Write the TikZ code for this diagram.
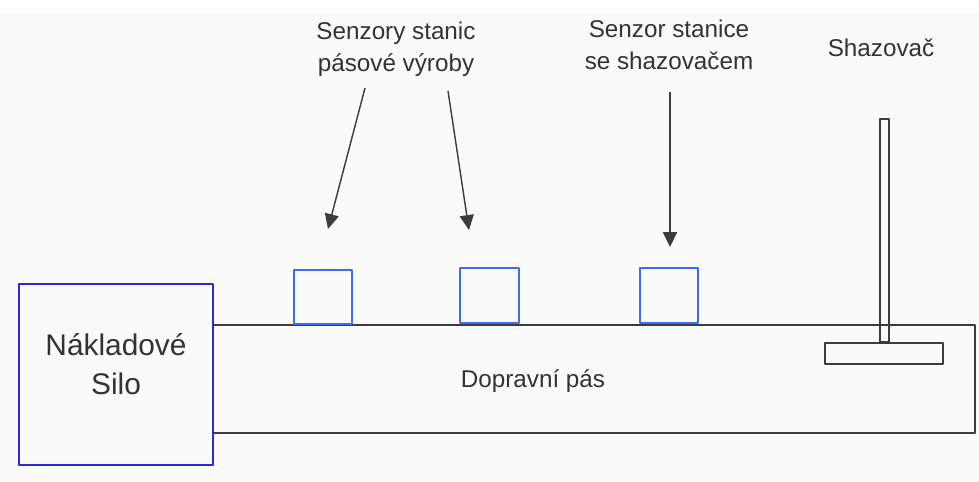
\documentclass[tikz,border=0pt]{standalone}
\usepackage{fontspec}
\setmainfont{Liberation Sans}
\usetikzlibrary{arrows.meta}
\definecolor{silocol}{HTML}{2A2AD4}
\definecolor{senzcol}{HTML}{3B6CF2}
\definecolor{linecol}{HTML}{3C3C3C}
\definecolor{txtcol}{HTML}{333333}
\definecolor{bgcol}{HTML}{FAFAFA}
\tikzset{
  popis/.style={text=txtcol, align=center, font=\fontsize{13.8}{18.5}\selectfont},
  senzor/.style={draw=senzcol, line width=1pt},
  sipka/.style={-{Triangle[length=8.5pt,width=8pt]}, line width=0.8pt, draw=linecol, fill=linecol}
}
\begin{document}
\begin{tikzpicture}[x=0.02cm, y=-0.02cm, line join=round]
            \useasboundingbox (0,0) rectangle (979,481);
            \fill[white] (0,0) rectangle (979,481);
            \fill[bgcol] (0,13) rectangle (979,481);
            % pas a silo
            \draw[linecol, line width=0.8pt] (213,325) rectangle (975,433);
            \draw[silocol, line width=1pt, fill=bgcol] (19,284) rectangle (213,465);
            \node[popis, font=\fontsize{17}{22}\selectfont] (silo) at (116,364) {Nákladové\\Silo};
            \node[popis] (pas) at (533,381) {Dopravní pás};
            % senzory
            \draw[senzor] (294,270) rectangle (352,324);
            \draw[senzor] (460,268) rectangle (519,323);
            \draw[senzor] (640,268) rectangle (698,323);
            % shazovac
            \draw[linecol, line width=0.8pt] (880,119) rectangle (889,342);
            \draw[linecol, line width=0.8pt] (825,343) rectangle (943,364);
            % popisky
            \node[popis] (pasove) at (396,49) {Senzory stanic\\pásové výroby};
            \node[popis] (shaz) at (669,45) {Senzor stanice\\se shazovačem};
            \node[popis] (shazovac) at (881,48) {Shazovač};
            \coordinate (a1) at (365,88);
            \coordinate (b1) at (328,229);
            \coordinate (a2) at (448,91);
            \coordinate (b2) at (469,230);
            \coordinate (a3) at (670,92);
            \coordinate (b3) at (670,247);
            \draw[sipka] (a1) -- (b1);
            \draw[sipka] (a2) -- (b2);
            \draw[sipka] (a3) -- (b3);
        \end{tikzpicture}
\end{document}
